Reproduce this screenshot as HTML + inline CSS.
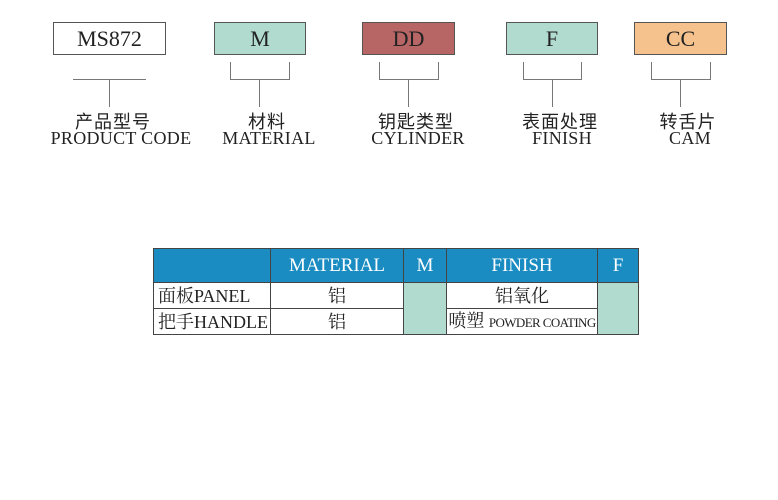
<!DOCTYPE html>
<html><head><meta charset="utf-8"><style>
body{margin:0;width:778px;height:500px;background:#fff;position:relative;overflow:hidden;font-family:"Liberation Serif","Noto Serif CJK SC",serif;color:#222}
.b{position:absolute;top:22px;height:31px;border:1px solid #555;font-size:22px;text-align:center;line-height:31px}
.l{position:absolute;background:#777}
.cn{position:absolute;top:108px;width:160px;text-align:center;font-size:18px;font-family:"Liberation Serif","Noto Sans CJK SC",serif;letter-spacing:1px}
.en{position:absolute;top:128px;width:180px;text-align:center;font-size:18px;letter-spacing:0.3px}
table{position:absolute;left:153px;top:248px;border-collapse:collapse;font-size:17px}
td{border:1px solid #444;padding:0;text-align:center;line-height:20px}
.h td{background:#1a8cc2;color:#fff;height:33px;font-size:19px}
.r td{height:25px}
.g{background:#b2dbd0}
</style></head><body>
<div class="b" style="left:53px;width:111px;background:#fff">MS872</div>
<div class="b" style="left:214px;width:90px;background:#b2dbd0">M</div>
<div class="b" style="left:362px;width:91px;background:#b86565">DD</div>
<div class="b" style="left:506px;width:90px;background:#b2dbd0">F</div>
<div class="b" style="left:634px;width:91px;background:#f5c28e">CC</div>

<div class="l" style="left:73px;top:79px;width:73px;height:1px"></div>
<div class="l" style="left:109px;top:79px;width:1px;height:28px"></div>

<div class="l" style="left:230px;top:62px;width:1px;height:17px"></div><div class="l" style="left:289px;top:62px;width:1px;height:17px"></div><div class="l" style="left:230px;top:79px;width:60px;height:1px"></div><div class="l" style="left:259px;top:79px;width:1px;height:28px"></div>
<div class="l" style="left:379px;top:62px;width:1px;height:17px"></div><div class="l" style="left:438px;top:62px;width:1px;height:17px"></div><div class="l" style="left:379px;top:79px;width:60px;height:1px"></div><div class="l" style="left:408px;top:79px;width:1px;height:28px"></div>
<div class="l" style="left:523px;top:62px;width:1px;height:17px"></div><div class="l" style="left:581px;top:62px;width:1px;height:17px"></div><div class="l" style="left:523px;top:79px;width:59px;height:1px"></div><div class="l" style="left:552px;top:79px;width:1px;height:28px"></div>
<div class="l" style="left:651px;top:62px;width:1px;height:17px"></div><div class="l" style="left:710px;top:62px;width:1px;height:17px"></div><div class="l" style="left:651px;top:79px;width:60px;height:1px"></div><div class="l" style="left:680px;top:79px;width:1px;height:28px"></div>

<div class="cn" style="left:33px">产品型号</div><div class="en" style="left:31px">PRODUCT CODE</div>
<div class="cn" style="left:187px">材料</div><div class="en" style="left:179px">MATERIAL</div>
<div class="cn" style="left:336px">钥匙类型</div><div class="en" style="left:328px">CYLINDER</div>
<div class="cn" style="left:480px">表面处理</div><div class="en" style="left:472px">FINISH</div>
<div class="cn" style="left:608px">转舌片</div><div class="en" style="left:600px">CAM</div>

<table>
<tr class="h"><td style="width:116px"></td><td style="width:132px">MATERIAL</td><td style="width:42px">M</td><td style="width:150px">FINISH</td><td style="width:40px">F</td></tr>
<tr class="r"><td style="text-align:left;padding-left:4px;font-size:18px">面板PANEL</td><td style="font-size:18px">铝</td><td class="g" rowspan="2"></td><td style="font-size:18px">铝氧化</td><td class="g" rowspan="2"></td></tr>
<tr class="r"><td style="text-align:left;padding-left:4px;font-size:18px">把手HANDLE</td><td style="font-size:18px">铝</td><td style="font-size:18px">喷塑 <span style="font-size:13px;letter-spacing:-0.6px">POWDER COATING</span></td></tr>
</table>
</body></html>
